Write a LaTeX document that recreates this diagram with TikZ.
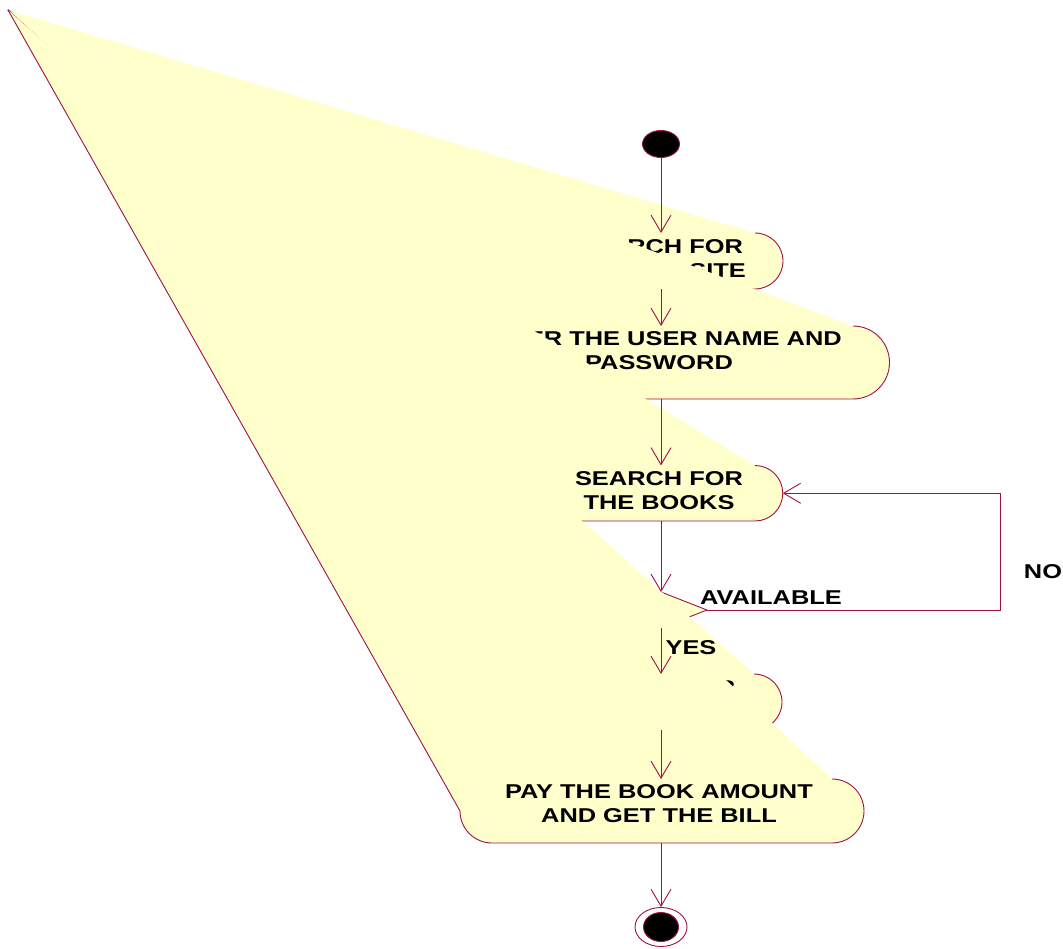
\documentclass[tikz,border=0pt]{standalone}
\usepackage{fontspec}
\newfontfamily\umlfont{Liberation Sans}[FakeStretch=1.27]
\usetikzlibrary{arrows.meta,shapes.geometric}
\usepackage{xcolor}
\definecolor{roseLine}{HTML}{A0104A}
\definecolor{roseFill}{HTML}{FFFFCC}

\begin{document}
\begin{tikzpicture}[>={Straight Barb[length=17pt,width=20pt]},x=1pt,y=-1pt]
\tikzstyle{actfill}=[fill=roseFill]
\tikzstyle{actline}=[draw=roseLine,line width=.9pt]
\tikzstyle{acttext}=[inner sep=0pt,align=center,font=\umlfont\bfseries\fontsize{20}{24}\selectfont]
\tikzstyle{lbl}=[inner sep=0pt,font=\umlfont\bfseries\fontsize{20}{24}\selectfont]
\tikzstyle{flow}=[->,draw=roseLine,line width=.9pt]
\useasboundingbox (0,0) rectangle (1063,949);
\coordinate (corner) at (8,10);
\node[ellipse,draw=roseLine,fill=black,line width=.9pt,minimum width=37pt,minimum height=27pt,inner sep=0pt] (start) at (661,144) {};
% decision
\coordinate (availN) at (661,592);
\coordinate (availE) at (707,610);
\coordinate (availS) at (661,628);
\fill[actfill] (corner) -- (availN) -- (availE) -- (availS) -- cycle;
\draw[actline] (availN) -- (availE) -- (availS);
% activities
\foreach \lc/\rc/\tp/\bt/\ty/\nm/\txt in {561/755/233/289/258.5/web/{SEARCH FOR\\THE WEBSITE},461/853/326/399/351/login/{ENTER THE USER NAME AND\\PASSWORD},561/755/465.5/521/490.5/books/{SEARCH FOR\\THE BOOKS},566/754/674/730/699.5/cart/{ORDER FOR\\THE BOOK},492/832/779/843/803.5/pay/{PAY THE BOOK AMOUNT\\AND GET THE BILL}}{
  \pgfmathsetmacro\actr{(\bt-\tp)/2}
  \fill[actfill] (corner) -- (\rc,\tp) arc[start angle=90,end angle=-90,radius=\actr pt] -- (\lc,\bt) arc[start angle=270,end angle=180,radius=\actr pt] -- cycle;
  \draw[actline] (\rc,\tp) arc[start angle=90,end angle=-90,radius=\actr pt] -- (\lc,\bt) arc[start angle=270,end angle=180,radius=\actr pt] -- (corner);
  \coordinate (\nm-n) at (661,\tp);
  \coordinate (\nm-s) at (661,\bt);
  \coordinate (\nm-e) at ({\rc+\actr},{(\tp+\bt)/2});
  \node[acttext] (\nm) at (659,\ty) {\txt};
}
\node[ellipse,draw=roseLine,fill=white,line width=.9pt,minimum width=52pt,minimum height=39pt,inner sep=0pt] (stop) at (661,927) {};
\node[ellipse,draw=roseLine,fill=black,line width=.9pt,minimum width=35pt,minimum height=29pt,inner sep=0pt] (stopdot) at (stop) {};
\foreach \a/\b in {start.south/web-n,web-s/login-n,login-s/books-n,books-s/availN,availS/cart-n,cart-s/pay-n,pay-s/stop.north}{\draw[flow] (\a) -- (\b);}
\draw[flow] (availE) -- ++(293,0) |- (books-e);
\node[lbl] (availtxt) at (771,598) {AVAILABLE};
\node[lbl] (yes) at (691,648) {YES};
\node[lbl] (no) at (1043,572) {NO};
\end{tikzpicture}
\end{document}
